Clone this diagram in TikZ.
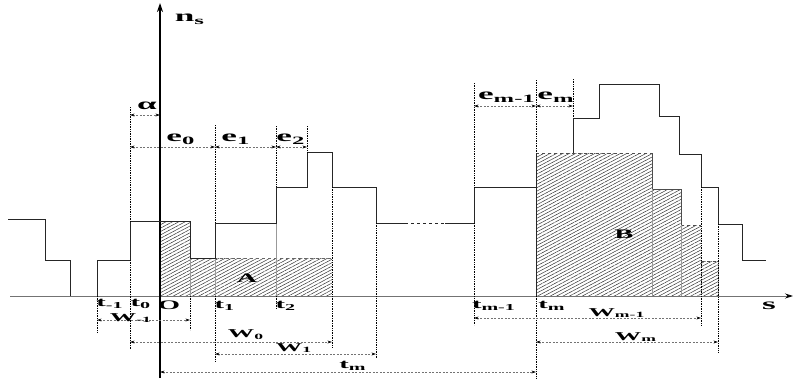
\documentclass[tikz,border=0pt]{standalone}
\usepackage{fontspec}
\setmainfont{Liberation Serif}
\usetikzlibrary{arrows.meta,patterns.meta}

\begin{document}
\begin{tikzpicture}[x=1pt, y=-1pt, >={Stealth[length=4.5pt,width=2.8pt,color=black]},
    stepline/.style={black!85, line width=0.8pt},
    greyline/.style={black!40, line width=0.7pt},
    extline/.style={black, densely dotted, line width=0.7pt},
    dimline/.style={<->, black!55, dash pattern=on 2pt off 1.5pt, line width=0.6pt},
    hatch/.style={pattern={Lines[angle=28,distance=3pt,line width=0.5pt]}, pattern color=black!80},
    lbl/.style={font=\bfseries\fontsize{13}{13}\selectfont, xscale=2.2, inner sep=0pt},
    biglbl/.style={lbl, font=\bfseries\fontsize{16}{16}\selectfont},
    smalllbl/.style={lbl, font=\bfseries\fontsize{12}{12}\selectfont}]
    \useasboundingbox (0,0) rectangle (793,378);

    % Hatched areas A and B
    \fill[hatch] (160,296) -- (160,221) -- (190,221) -- (190,258) -- (332,258) -- (332,296) -- cycle;
    \fill[hatch] (536,296) -- (536,153) -- (652,153) -- (652,189) -- (681,189) -- (681,225)
        -- (701,225) -- (701,261) -- (718,261) -- (718,296) -- cycle;
    \draw[black!60, dashed, line width=0.6pt] (190,258) -- (332,258);
    \draw[black!70, dashed, line width=0.6pt] (536,153) -- (652,153);
    \draw[black!70, line width=0.6pt] (652,153) -- (652,189) -- (681,189) -- (681,225);
    \draw[black!70, dashed, line width=0.6pt] (681,225) -- (701,225);
    \draw[black!70, dashed, line width=0.6pt] (701,261) -- (718,261);

    % Grey risers inside the areas
    \draw[greyline] (190,258) -- (190,296);
    \draw[greyline] (215,258) -- (215,296);
    \draw[greyline] (276,223) -- (276,296);
    \draw[greyline] (652,189) -- (652,296);
    \draw[greyline] (681,225) -- (681,296);
    \draw[greyline] (718,261) -- (718,296);

    % Axes
    \draw[->, black!55, line width=0.8pt, >={Stealth[length=8pt,width=5pt,color=black]}] (10,296) -- (793,296);
    \draw[->, black, line width=1.2pt, >={Stealth[length=9pt,width=6pt]}] (160,378) -- (160,3);

    % Step curves
    \draw[stepline] (8,219) -- (45,219) -- (45,260) -- (70,260) -- (70,296);
    \draw[stepline] (97,296) -- (97,260) -- (130,260) -- (130,221) -- (190,221) -- (190,258)
        -- (215,258) -- (215,223) -- (276,223) -- (276,187) -- (307,187) -- (307,152)
        -- (332,152) -- (332,187) -- (376,187) -- (376,223) -- (405,223);
    \draw[stepline, dashed] (405,223) -- (445,223);
    \draw[stepline] (445,223) -- (474,223) -- (474,187) -- (536,187);
    \draw[stepline] (536,296) -- (536,153);
    \draw[stepline] (573,153) -- (573,118) -- (599,118) -- (599,84) -- (659,84) -- (659,116)
        -- (679,116) -- (679,154) -- (701,154) -- (701,187) -- (718,187) -- (718,224)
        -- (742,224) -- (742,260) -- (766,260);

    % Extension lines
    \draw[extline] (97,296) -- (97,332);
    \draw[extline] (130,107) -- (130,221);
    \draw[extline] (130,260) -- (130,350);
    \draw[extline] (190,296) -- (190,330);
    \draw[extline] (215,125) -- (215,223);
    \draw[extline] (215,296) -- (215,362);
    \draw[extline] (276,126) -- (276,187);
    \draw[extline] (276,296) -- (276,308);
    \draw[extline] (307,126) -- (307,152);
    \draw[extline] (332,187) -- (332,347);
    \draw[extline] (376,223) -- (376,358);
    \draw[extline] (474,83) -- (474,187);
    \draw[extline] (474,223) -- (474,325);
    \draw[extline] (536,80) -- (536,153);
    \draw[extline] (536,296) -- (536,378);
    \draw[extline] (573,79) -- (573,118);
    \draw[extline] (701,187) -- (701,326);
    \draw[extline] (718,224) -- (718,352);

    % Dimension lines
    \draw[dimline] (130,115) -- (160,115);
    \draw[dimline] (130,147) -- (215,147);
    \draw[dimline] (215,147) -- (276,147);
    \draw[dimline] (276,147) -- (307,147);
    \draw[dimline] (474,106) -- (536,106);
    \draw[dimline] (536,106) -- (573,106);
    \draw[dimline] (97,320) -- (190,320);
    \draw[dimline] (130,342) -- (332,342);
    \draw[dimline] (215,354) -- (376,354);
    \draw[dimline] (160,372) -- (536,372);
    \draw[dimline] (474,318) -- (701,318);
    \draw[dimline] (536,342) -- (718,342);

    % Labels
    \node[biglbl] (ns) at (190,19) {n\textsubscript{s}};
    \node[biglbl] (s) at (769,306) {s};
    \node[biglbl] (alpha) at (147,106) {α};
    \node[biglbl] (e0) at (181,139) {e\textsubscript{0}};
    \node[biglbl] (e1) at (236,139) {e\textsubscript{1}};
    \node[biglbl] (e2) at (291,139) {e\textsubscript{2}};
    \node[biglbl] (em1) at (507,97) {e\textsubscript{m-1}};
    \node[biglbl] (em) at (556,97) {e\textsubscript{m}};
    \node[lbl] (tneg1) at (110,304) {t\textsubscript{-1}};
    \node[lbl] (t0) at (141,304) {t\textsubscript{0}};
    \node[lbl] (O) at (169,305) {O};
    \node[lbl] (t1) at (225,306) {t\textsubscript{1}};
    \node[lbl] (t2) at (286,306) {t\textsubscript{2}};
    \node[lbl] (tm1) at (494,306) {t\textsubscript{m-1}};
    \node[lbl] (tm) at (552,306) {t\textsubscript{m}};
    \node[lbl] (tmdim) at (353,366) {t\textsubscript{m}};
    \node[smalllbl] (wneg1) at (131,318) {W\textsubscript{-1}};
    \node[smalllbl] (w0) at (246,335) {W\textsubscript{0}};
    \node[smalllbl] (w1) at (294,348) {W\textsubscript{1}};
    \node[smalllbl] (wm1) at (617,313) {W\textsubscript{m-1}};
    \node[smalllbl] (wm) at (636,337) {W\textsubscript{m}};
    \node[lbl] (A) at (247,278) {A};
    \node[lbl] (B) at (624,234) {B};
\end{tikzpicture}
\end{document}
